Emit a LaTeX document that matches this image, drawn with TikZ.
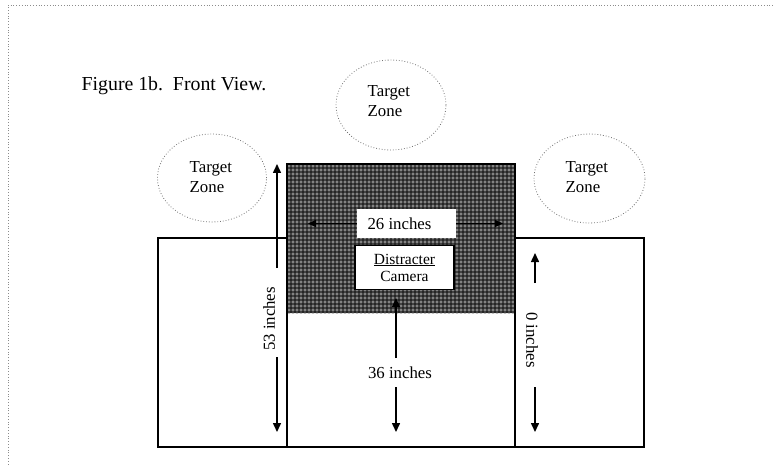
\documentclass[tikz,border=0pt]{standalone}
\usepackage{fontspec}
\setmainfont{Liberation Serif}
\usetikzlibrary{arrows.meta}
\begin{document}
\begin{tikzpicture}[x=1pt,y=-1pt,
  box/.style={draw=black,line width=1.3pt},
  zone/.style={draw=black!55,dotted,line width=0.8pt},
  arr/.style={-{Triangle[length=9pt,width=8pt]},line width=1.5pt},
  thinarr/.style={-{Triangle[length=8pt,width=7pt]},line width=1pt},
  lab/.style={font=\fontsize{16.8}{20}\selectfont,inner sep=0pt}]
\useasboundingbox (0,0) rectangle (773,465);
% outer dotted frame
\draw[black!45,dotted,line width=0.8pt] (8,470) -- (8,5) -- (780,5);
% patterned area
\fill[black!85] (287,164) rectangle (515,313);
\begin{scope}
  \clip (287,164) rectangle (515,313);
  \foreach \i in {0,...,57}{
    \foreach \j in {0,...,37}{
      \draw[black!35,line width=0.6pt] (289+4*\i,166+4*\j) circle[radius=1.2pt];
    }
  }
\end{scope}
% boxes
\draw[box] (158,238) rectangle (287,447);
\draw[box] (287,164) rectangle (515,447);
\draw[box] (515,238) rectangle (644,447);
% target zones
\draw[zone] (212,178) ellipse [x radius=54.5pt, y radius=44pt];
\draw[zone] (391,105) ellipse [x radius=55pt, y radius=45pt];
\draw[zone] (589.5,178.5) ellipse [x radius=55.5pt, y radius=44.5pt];
\node[lab,align=left,anchor=west] (tzL) at (189.5,177) {Target\\Zone};
\node[lab,align=left,anchor=west] (tzT) at (367.5,101) {Target\\Zone};
\node[lab,align=left,anchor=west] (tzR) at (565.5,177) {Target\\Zone};
% title
\node[font=\fontsize{19.8}{24}\selectfont,inner sep=0pt,anchor=base west] (title) at (81.5,90.7) {Figure 1b.\ \ Front View.};
% 26 inches
\node[fill=white,minimum width=99pt,minimum height=29pt,inner sep=0pt] (b26) at (406.5,223.5) {};
\node[lab] (t26) at (399.5,224) {26 inches};
\coordinate (c26L) at (308,223.5);
\coordinate (c26R) at (503,223.5);
\draw[thinarr] (b26.west) -- (c26L);
\draw[thinarr] (b26.east) -- (c26R);
% camera
\node[draw=black,line width=1.2pt,fill=white,minimum width=99pt,minimum height=44pt,inner sep=0pt,align=center,font=\fontsize{15.5}{17}\selectfont] (cam) at (404.5,267.5) {\underline{Distracter}\\Camera};
% 53 inches
\node[lab,rotate=90] (t53) at (269,319) {53 inches};
\coordinate (a53u1) at (277,268);
\coordinate (a53u2) at (277,164);
\coordinate (a53d1) at (277,357);
\coordinate (a53d2) at (277,432);
\draw[arr] (a53u1) -- (a53u2);
\draw[arr] (a53d1) -- (a53d2);
% 36 inches
\node[lab] (t36) at (400,373) {36 inches};
\coordinate (a36u1) at (396,358);
\coordinate (a36u2) at (396,298);
\coordinate (a36d1) at (396,387);
\coordinate (a36d2) at (396,432);
\draw[arr] (a36u1) -- (a36u2);
\draw[arr] (a36d1) -- (a36d2);
% 0 inches
\node[lab,rotate=-90] (t0) at (532,340) {0 inches};
\coordinate (a0u1) at (535,283);
\coordinate (a0u2) at (535,253);
\coordinate (a0d1) at (535,387);
\coordinate (a0d2) at (535,432);
\draw[arr] (a0u1) -- (a0u2);
\draw[arr] (a0d1) -- (a0d2);
\end{tikzpicture}
\end{document}
